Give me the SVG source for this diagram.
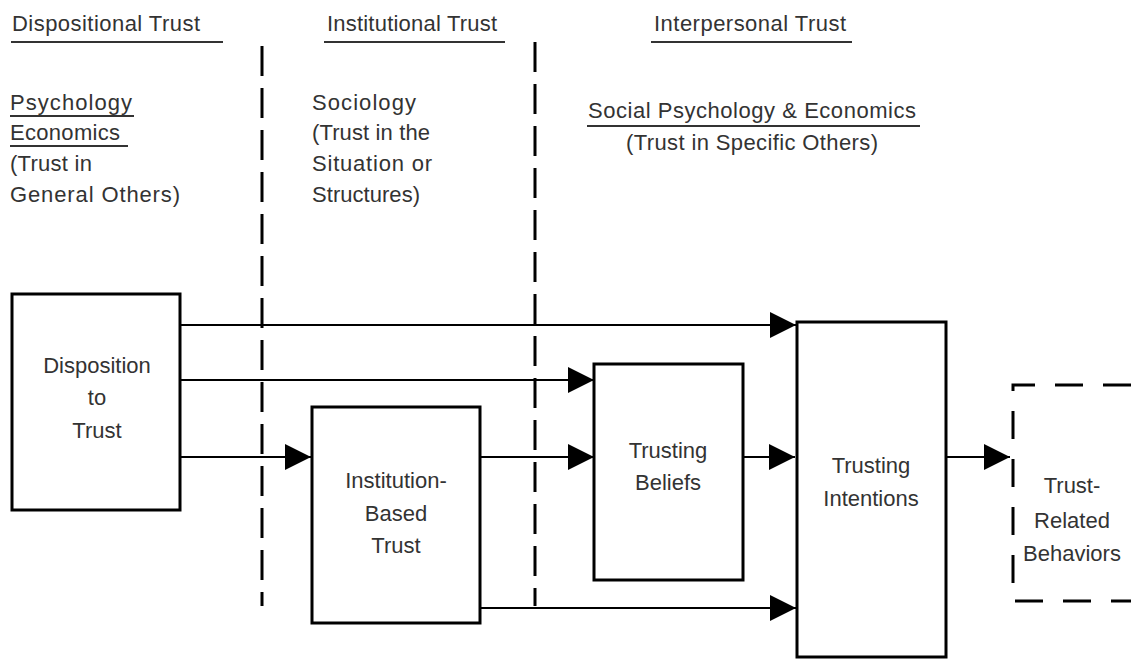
<svg xmlns="http://www.w3.org/2000/svg" width="1131" height="659" viewBox="0 0 1131 659">
<defs>
<style>
text{font-family:"Liberation Sans",Arial,sans-serif;font-size:22px;fill:#333}
.c{text-anchor:middle}
.box{fill:#fff;stroke:#000;stroke-width:3}
.ul{stroke:#333;stroke-width:2}
.div{stroke:#000;stroke-width:3;stroke-dasharray:30 12}
.conn line{stroke:#000;stroke-width:2}
</style>
<marker id="ah" markerWidth="26" markerHeight="26" refX="26" refY="13" orient="auto" markerUnits="userSpaceOnUse">
<path d="M0,0 L26,13 L0,26 Z" fill="#000"/>
</marker>
</defs>
<rect width="1131" height="659" fill="#fff"/>
<g id="headers">
<text x="12" y="31" textLength="188">Dispositional Trust</text>
<line class="ul" x1="11" y1="42" x2="223" y2="42"/>
<text x="327" y="31" textLength="170">Institutional Trust</text>
<line class="ul" x1="324" y1="42" x2="505" y2="42"/>
<text x="654" y="31" textLength="192">Interpersonal Trust</text>
<line class="ul" x1="651" y1="42" x2="852" y2="42"/>
</g>
<g id="disciplines">
<text x="10" y="110" textLength="122">Psychology</text>
<line class="ul" x1="10" y1="116" x2="134" y2="116"/>
<text x="10" y="140" textLength="110">Economics</text>
<line class="ul" x1="10" y1="146" x2="128" y2="146"/>
<text x="10" y="171" textLength="82">(Trust in</text>
<text x="10" y="202" textLength="170">General Others)</text>
<text x="312" y="110" textLength="104">Sociology</text>
<text x="312" y="140" textLength="118">(Trust in the</text>
<text x="312" y="171" textLength="120">Situation or</text>
<text x="312" y="202" textLength="108">Structures)</text>
<text x="588" y="118" textLength="328">Social Psychology &amp; Economics</text>
<line class="ul" x1="587" y1="126" x2="920" y2="126"/>
<text x="626" y="150" textLength="252">(Trust in Specific Others)</text>
</g>
<g id="dividers">
<line class="div" x1="262" y1="46" x2="262" y2="606"/>
<line class="div" x1="535" y1="42" x2="535" y2="606"/>
</g>
<g class="conn" id="connectors">
<line x1="180" y1="325" x2="796" y2="325" marker-end="url(#ah)"/>
<line x1="180" y1="380" x2="594" y2="380" marker-end="url(#ah)"/>
<line x1="180" y1="457" x2="311" y2="457" marker-end="url(#ah)"/>
<line x1="480" y1="457" x2="594" y2="457" marker-end="url(#ah)"/>
<line x1="743" y1="457" x2="795" y2="457" marker-end="url(#ah)"/>
<line x1="480" y1="608" x2="796" y2="608" marker-end="url(#ah)"/>
<line x1="946" y1="457" x2="1010" y2="457" marker-end="url(#ah)"/>
</g>
<g id="disposition">
<rect class="box" x="12" y="294" width="168" height="216"/>
<text x="97" y="373" class="c">Disposition</text>
<text x="97" y="405" class="c">to</text>
<text x="97" y="438" class="c">Trust</text>
</g>
<g id="institution">
<rect class="box" x="312" y="407" width="168" height="216"/>
<text x="396" y="488" class="c">Institution-</text>
<text x="396" y="521" class="c">Based</text>
<text x="396" y="553" class="c">Trust</text>
</g>
<g id="beliefs">
<rect class="box" x="594" y="364" width="149" height="216"/>
<text x="668" y="458" class="c">Trusting</text>
<text x="668" y="490" class="c">Beliefs</text>
</g>
<g id="intentions">
<rect class="box" x="797" y="322" width="149" height="335"/>
<text x="871" y="473" class="c">Trusting</text>
<text x="871" y="506" class="c">Intentions</text>
</g>
<g id="behaviors">
<path d="M1131,385 H1013 V601 H1131" fill="none" stroke="#000" stroke-width="3" stroke-dasharray="28 20"/>
<text x="1072" y="493" class="c">Trust-</text>
<text x="1072" y="528" class="c">Related</text>
<text x="1072" y="561" class="c">Behaviors</text>
</g>
</svg>
